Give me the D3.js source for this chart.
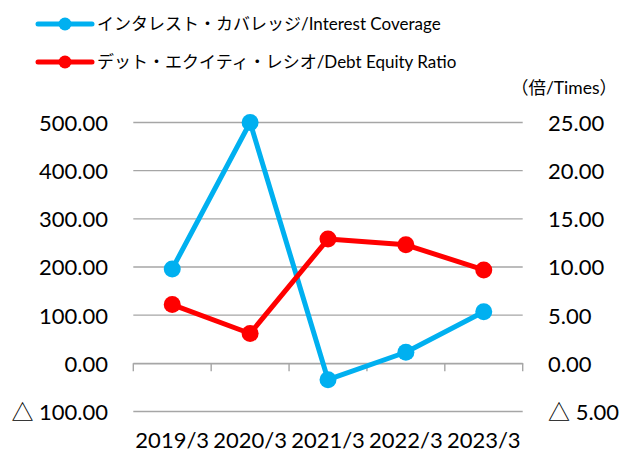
<!DOCTYPE html>
<html><head><meta charset="utf-8">
<script src="https://cdn.jsdelivr.net/npm/d3@7"></script>
<style>body{margin:0;background:#fff}svg{display:block}text{font-family:Lato,"Noto Sans CJK JP",sans-serif;fill:#000}</style>
</head><body><svg id="c" width="625" height="453"></svg>
<script>
const categories = ["2019/3","2020/3","2021/3","2022/3","2023/3"];
const interestCoverage = [196, 500, -34, 23, 107];
const debtEquity = [6.1, 3.1, 12.9, 12.3, 9.7];
const leftTicks = [-100, 0, 100, 200, 300, 400, 500];
const rightTicks = [-5, 0, 5, 10, 15, 20, 25];
const seriesNames = ["インタレスト・カバレッジ/Interest Coverage", "デット・エクイティ・レシオ/Debt Equity Ratio"];
const unitLabel = "（倍/Times）";
const colors = ["#00B0F0", "#FF0000"];

const svg = d3.select("#c");
const x = d3.scaleBand().domain(categories).range([133.3, 522.7]);
const yL = d3.scaleLinear().domain([-100, 500]).range([411.5, 122.5]);
const yR = d3.scaleLinear().domain([-5, 25]).range([411.5, 122.5]);
const fmt = v => v < 0 ? "△ " + d3.format(".2f")(-v) : d3.format(".2f")(v);

// gridlines
svg.append("g").selectAll("line").data(leftTicks).join("line")
  .attr("x1", 133.3).attr("x2", 522.7)
  .attr("y1", d => yL(d)).attr("y2", d => yL(d))
  .attr("stroke", "#a6a6a6").attr("stroke-width", 1.4);

// x axis at zero with ticks downward
const xAxis = d3.axisBottom(x).tickSize(0).tickFormat("");
const gx = svg.append("g").attr("transform", `translate(0,${yL(0)})`).call(xAxis);
gx.select(".domain").attr("stroke", "#a6a6a6").attr("stroke-width", 1.4);
const bounds = categories.map(c => x(c)).concat([x(categories[categories.length-1]) + x.bandwidth()]);
gx.selectAll(".tk").data(bounds).join("line").attr("class","tk")
  .attr("x1", d => d).attr("x2", d => d).attr("y1", 0).attr("y2", 8)
  .attr("stroke", "#a6a6a6").attr("stroke-width", 1.4);

// category labels
svg.append("g").selectAll("text").data(categories).join("text")
  .attr("x", d => x(d) + x.bandwidth()/2).attr("y", 448)
  .attr("text-anchor", "middle").attr("font-size", 22).text(d => d);

// left axis labels
const gl = svg.append("g").attr("transform", "translate(108,0)")
  .call(d3.axisLeft(yL).tickValues(leftTicks).tickSize(0).tickPadding(0).tickFormat(fmt));
gl.select(".domain").remove();
gl.selectAll("text").attr("font-size", 22).attr("font-family", "Lato, sans-serif").attr("dy", "0.36em");

// right axis labels
const gr = svg.append("g").attr("transform", "translate(548,0)")
  .call(d3.axisRight(yR).tickValues(rightTicks).tickSize(0).tickPadding(0).tickFormat(fmt));
gr.select(".domain").remove();
gr.selectAll("text").attr("font-size", 22).attr("font-family", "Lato, sans-serif").attr("dy", "0.36em");

// unit label
svg.append("text").attr("x", 617).attr("y", 94).attr("text-anchor", "end")
  .attr("font-size", 17.5).text(unitLabel);

// series
const cx = d => x(d) + x.bandwidth()/2;
function drawSeries(vals, scale, color) {
  const pts = categories.map((c, i) => [cx(c), scale(vals[i])]);
  svg.append("path").attr("d", d3.line()(pts)).attr("fill", "none")
    .attr("stroke", color).attr("stroke-width", 5).attr("stroke-linejoin", "round");
  svg.append("g").selectAll("circle").data(pts).join("circle")
    .attr("cx", d => d[0]).attr("cy", d => d[1]).attr("r", 8.5).attr("fill", color);
}
drawSeries(interestCoverage, yL, colors[0]);
drawSeries(debtEquity, yR, colors[1]);

// legend
const lg = svg.append("g");
[24, 62].forEach((yy, i) => {
  lg.append("line").attr("x1", 38).attr("x2", 92).attr("y1", yy).attr("y2", yy)
    .attr("stroke", colors[i]).attr("stroke-width", 5).attr("stroke-linecap", "round");
  lg.append("circle").attr("cx", 65).attr("cy", yy).attr("r", 6.5).attr("fill", colors[i]);
  lg.append("text").attr("x", 97).attr("y", yy).attr("dy", "0.36em")
    .attr("font-size", 17).text(seriesNames[i]);
});
</script></body></html>
